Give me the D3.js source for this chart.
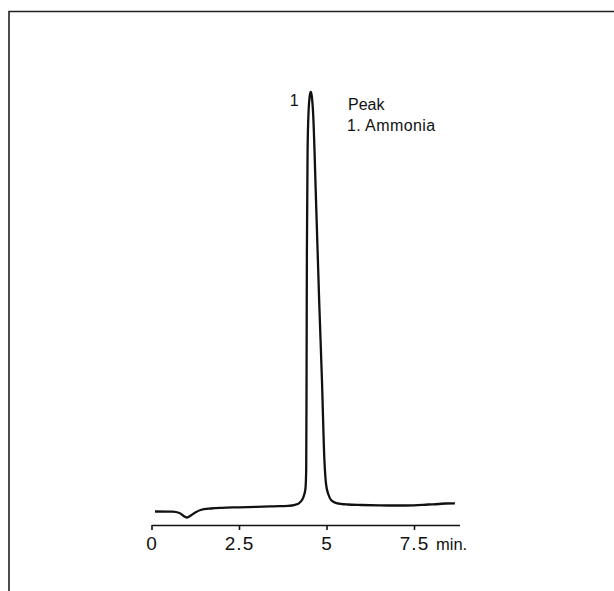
<!DOCTYPE html>
<html>
<head>
<meta charset="utf-8">
<script src="https://cdn.jsdelivr.net/npm/d3@7"></script>
<style>
    body { margin: 0; background: #fff; }
    svg { display: block; font-family: 'Liberation Sans', Arial, Helvetica, sans-serif; }
</style>
</head>
<body>
<div id="chart"></div>
<script>
// retention time (min) and detector response (relative units, peak = 100)
const times = [0.10, 0.60, 0.80, 0.92, 1.00, 1.10, 1.25, 1.40, 1.70, 2.00, 2.50, 3.00, 3.50, 3.90,
    4.10, 4.22, 4.30, 4.36, 4.40, 4.42, 4.43, 4.44, 4.46, 4.49, 4.52, 4.55, 4.58, 4.62, 4.70, 4.79,
    4.87, 4.94, 4.99, 5.06, 5.13, 5.28, 5.60, 6.00, 6.50, 7.00, 7.50, 7.90, 8.20, 8.40, 8.67];
const signal = [-0.36, -0.41, -0.72, -1.44, -1.79, -1.44, -0.6, 0, 0.36, 0.53, 0.65, 0.77, 0.89, 1.0,
    1.24, 1.67, 2.39, 3.59, 5.26, 9.57, 31.1, 62.2, 86.1, 95.7, 99.0, 100, 99.0, 94.5, 74.2, 50.2,
    31.1, 11.96, 5.98, 3.59, 2.39, 1.67, 1.32, 1.2, 1.12, 1.08, 1.12, 1.32, 1.44, 1.56, 1.6];

const tickValues = [0, 2.5, 5, 7.5];
const tickLabels = ['0', '2.5', '5', '7.5'];
const unitLabel = 'min.';

const peakNumbers = ['1'];
const peakTimes = [4.55];
const legendTitle = 'Peak';
const legendItems = ['1. Ammonia'];

const width = 614, height = 591;
const axisY = 525;

const svg = d3.select('#chart').append('svg')
    .attr('width', width).attr('height', height);

// frame: top and left edges only
svg.append('path')
    .attr('d', `M9,${height} V11.5 H${width}`)
    .attr('fill', 'none')
    .attr('stroke', '#222')
    .attr('stroke-width', 1.6);

const x = d3.scaleLinear([0, 8.8], [151.5, 459.5]);
const y = d3.scaleLinear([0, 100], [510, 92]);

const data = times.map((t, i) => [t, signal[i]]);

const line = d3.line()
    .x(d => x(d[0]))
    .y(d => y(d[1]))
    .curve(d3.curveMonotoneX);

svg.append('path')
    .datum(data)
    .attr('d', line)
    .attr('fill', 'none')
    .attr('stroke', '#111')
    .attr('stroke-width', 2.3)
    .attr('stroke-linejoin', 'round');

const axis = svg.append('g')
    .attr('transform', `translate(0,${axisY})`)
    .call(d3.axisBottom(x)
        .tickValues(tickValues)
        .tickFormat((d, i) => tickLabels[i])
        .tickSize(5)
        .tickSizeOuter(0)
        .tickPadding(7));

axis.select('.domain').attr('stroke', '#111').attr('stroke-width', 1.7);
axis.selectAll('.tick line').attr('stroke', '#111').attr('stroke-width', 1.6);
axis.selectAll('.tick text')
    .attr('fill', '#111')
    .style('font-size', '19px')
    .style('letter-spacing', '1px');

svg.append('text')
    .attr('x', 436).attr('y', 550)
    .attr('fill', '#111')
    .style('font-size', '16.5px')
    .text(unitLabel);

// peak number beside the apex
svg.selectAll('text.peaknum')
    .data(peakNumbers)
    .join('text')
    .classed('peaknum', true)
    .attr('x', (d, i) => x(peakTimes[i]) - 12)
    .attr('y', 106)
    .attr('text-anchor', 'end')
    .attr('fill', '#111')
    .style('font-size', '16px')
    .text(d => d);

// legend
svg.append('text')
    .attr('x', 348).attr('y', 110)
    .attr('fill', '#111')
    .style('font-size', '16px')
    .text(legendTitle);

svg.selectAll('text.legend')
    .data(legendItems)
    .join('text')
    .classed('legend', true)
    .attr('x', 347)
    .attr('y', (d, i) => 131 + i * 20)
    .attr('fill', '#111')
    .style('font-size', '16px')
    .style('letter-spacing', '0.4px')
    .text(d => d);
</script>
</body>
</html>
